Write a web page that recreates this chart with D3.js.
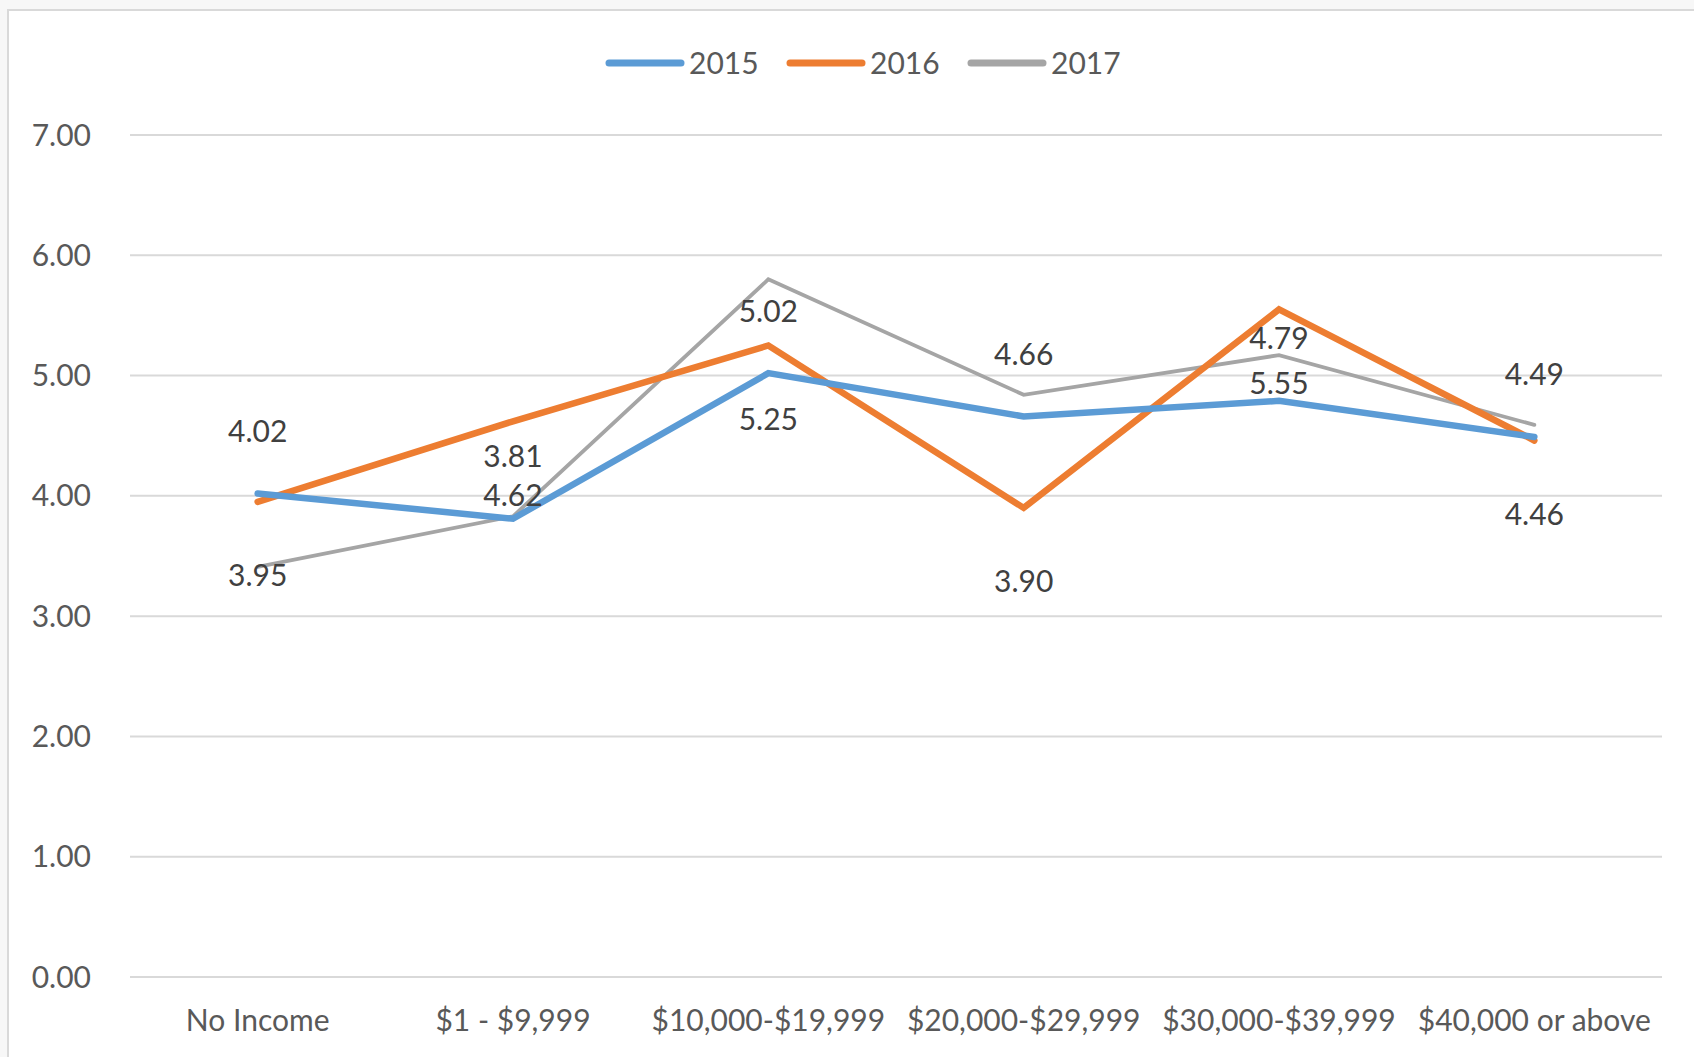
<!DOCTYPE html>
<html>
<head>
<meta charset="utf-8">
<script src="https://cdn.jsdelivr.net/npm/d3@7"></script>
<style>
  body { margin: 0; background: #f7f7f7; }
  svg { display: block; }
  text { font-family: Lato, "Liberation Sans", sans-serif; }
</style>
</head>
<body>
<script>
// data
var categories = ["No Income", "$1 - $9,999", "$10,000-$19,999", "$20,000-$29,999", "$30,000-$39,999", "$40,000 or above"];
var years = ["2015", "2016", "2017"];
var values2015 = [4.02, 3.81, 5.02, 4.66, 4.79, 4.49];
var values2016 = [3.95, 4.62, 5.25, 3.90, 5.55, 4.46];
var values2017 = [3.41, 3.83, 5.80, 4.84, 5.17, 4.59];
var yTicks = [0, 1, 2, 3, 4, 5, 6, 7];

var width = 1694, height = 1057;
var colors = ["#5B9BD5", "#ED7D31", "#A5A5A5"];
var strokeW = [6.5, 6.5, 3.8];

var series = [
    { name: years[0], values: values2015, labelDy: -62 },
    { name: years[1], values: values2016, labelDy: 74 },
    { name: years[2], values: values2017, labelDy: null }
];

var svg = d3.select("body").append("svg")
    .attr("width", width)
    .attr("height", height);

// chart frame
svg.append("rect")
    .attr("x", 8).attr("y", 10)
    .attr("width", width + 20).attr("height", height + 20)
    .attr("fill", "#fff")
    .attr("stroke", "#d9d9d9")
    .attr("stroke-width", 2);

var x = d3.scalePoint()
    .domain(categories)
    .range([130, 1662])
    .padding(0.5);

var y = d3.scaleLinear()
    .domain([0, 7])
    .range([977, 135]);

// gridlines
svg.append("g").selectAll("line")
    .data(yTicks)
    .enter().append("line")
    .attr("x1", 130).attr("x2", 1662)
    .attr("y1", function(d) { return y(d); })
    .attr("y2", function(d) { return y(d); })
    .attr("stroke", "#d9d9d9")
    .attr("stroke-width", 2);

// y axis labels
svg.append("g").selectAll("text")
    .data(yTicks)
    .enter().append("text")
    .attr("x", 91)
    .attr("y", function(d) { return y(d); })
    .attr("dy", "0.35em")
    .attr("text-anchor", "end")
    .attr("font-size", 30)
    .attr("fill", "#595959")
    .text(function(d) { return d3.format(".2f")(d); });

// x axis labels
svg.append("g").selectAll("text")
    .data(categories)
    .enter().append("text")
    .attr("x", function(d) { return x(d); })
    .attr("y", 1020)
    .attr("dy", "0.35em")
    .attr("text-anchor", "middle")
    .attr("font-size", 30)
    .attr("fill", "#595959")
    .text(function(d) { return d; });

var line = d3.line()
    .x(function(d, i) { return x(categories[i]); })
    .y(function(d) { return y(d); });

// lines, 2017 first so it sits underneath
svg.append("g").selectAll("path")
    .data(series.slice().reverse())
    .enter().append("path")
    .attr("d", function(d) { return line(d.values); })
    .attr("fill", "none")
    .attr("stroke", function(d) { return colors[years.indexOf(d.name)]; })
    .attr("stroke-width", function(d) { return strokeW[years.indexOf(d.name)]; })
    .attr("stroke-linejoin", "miter")
    .attr("stroke-linecap", "round");

// data labels (2015 above, 2016 below)
series.forEach(function(s) {
    if (s.labelDy === null) return;
    svg.append("g").selectAll("text")
        .data(s.values)
        .enter().append("text")
        .attr("x", function(d, i) { return x(categories[i]); })
        .attr("y", function(d) { return y(d) + s.labelDy; })
        .attr("dy", "0.35em")
        .attr("text-anchor", "middle")
        .attr("font-size", 30)
        .attr("fill", "#404040")
        .text(function(d) { return d3.format(".2f")(d); });
});

// legend
var legend = svg.append("g").attr("transform", "translate(606,63)");
var item = legend.selectAll("g")
    .data(years)
    .enter().append("g")
    .attr("transform", function(d, i) { return "translate(" + (i * 181) + ",0)"; });
item.append("line")
    .attr("x1", 3).attr("x2", 75)
    .attr("stroke", function(d, i) { return colors[i]; })
    .attr("stroke-width", 7)
    .attr("stroke-linecap", "round");
item.append("text")
    .attr("x", 83)
    .attr("dy", "0.35em")
    .attr("font-size", 30)
    .attr("fill", "#595959")
    .text(function(d) { return d; });
</script>
</body>
</html>
